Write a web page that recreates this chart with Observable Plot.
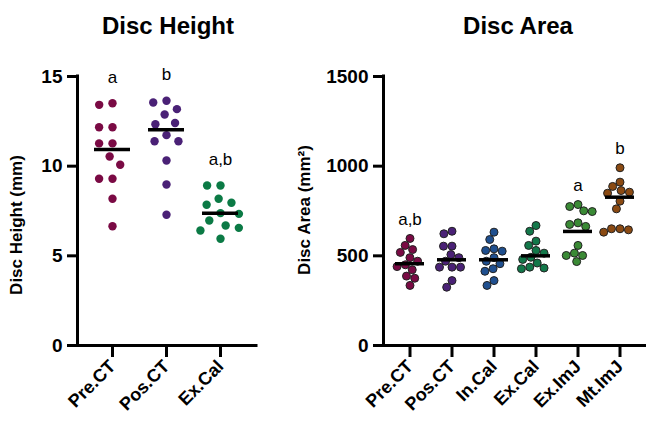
<!DOCTYPE html>
<html>
<head>
<meta charset="utf-8">
<script src="https://cdn.jsdelivr.net/npm/d3@7"></script>
<script src="https://cdn.jsdelivr.net/npm/@observablehq/plot@0.6"></script>
<style>
  html, body { margin: 0; padding: 0; background: #fff; }
  #wrap { position: relative; width: 646px; height: 426px; overflow: hidden; font-family: "Liberation Sans", Arial, sans-serif; }
  #wrap svg { position: absolute; top: 0; background: transparent; }
  .title { position: absolute; top: 12px; font-size: 24px; font-weight: bold; transform: translateX(-50%); white-space: nowrap; color: #000; }
  .ytitle { position: absolute; font-size: 17px; font-weight: bold; white-space: nowrap; transform: translate(-50%, -50%) rotate(-90deg); color: #000; }
</style>
</head>
<body>
<div id="wrap"></div>
<script>
// ---------- Disc Height ----------
const heightCategories = ["Pre.CT", "Pos.CT", "Ex.Cal"];
const heightPreCT = [13.51, 13.42, 12.17, 12.17, 11.27, 11.27, 10.54, 10.08, 9.30, 9.30, 8.18, 6.65];
const heightPosCT = [13.65, 13.55, 13.18, 12.88, 12.41, 12.34, 11.73, 11.39, 11.39, 10.32, 8.98, 7.29];
const heightExCal = [8.92, 8.92, 8.18, 7.96, 7.85, 7.38, 7.34, 6.97, 6.69, 6.56, 6.41, 5.95];
const heightCenter = [10.93, 12.03, 7.38];
const heightLetters = ["a", "b", "a,b"];
const heightTicks = [0, 5, 10, 15];

// ---------- Disc Area ----------
const areaCategories = ["Pre.CT", "Pos.CT", "In.Cal", "Ex.Cal", "Ex.ImJ", "Mt.ImJ"];
const areaPreCT = [597, 558, 535, 519, 490, 470, 450, 440, 422, 387, 375, 335];
const areaPosCT = [637, 623, 554, 554, 507, 490, 470, 437, 437, 437, 362, 325];
const areaInCal = [632, 591, 539, 530, 526, 490, 470, 456, 428, 414, 362, 335];
const areaExCal = [669, 637, 582, 558, 530, 515, 492, 480, 460, 437, 432, 428];
const areaExImJ = [786, 775, 751, 747, 684, 675, 664, 558, 515, 502, 502, 468];
const areaMtImJ = [991, 911, 887, 864, 855, 849, 805, 762, 651, 651, 645, 632];
const areaCenter = [456, 478, 478, 500, 636, 827];
const areaLetters = ["a,b", "", "", "", "a", "b"];
const areaTicks = [0, 500, 1000, 1500];

// colours
const heightColors = ["#7a0a44", "#4a2176", "#0b7a45"];
const areaColors = ["#7a0a44", "#4a2176", "#1f4f8f", "#13784a", "#3a8a35", "#8b4a12"];

const FONT = "Liberation Sans, Arial, sans-serif";

function rows(cats, groups) {
  return cats.flatMap((c, i) => groups[i].map(v => ({cat: c, v})));
}

function panel(opts) {
  const {cats, groups, centers, letters, ticks, yMax, colors, left, width, mL, mR, pIn, pOut, r, stroke, dodgePad, letterDy} = opts;
  const mT = 76, mB = 81, H = 426;
  const data = rows(cats, groups);
  const centerRows = cats.map((c, i) => ({cat: c, v: centers[i]}));
  const letterRows = cats.map((c, i) => ({cat: c, label: letters[i], top: d3.max(groups[i])})).filter(d => d.label);

  // axes frame (not faceted)
  const axes = Plot.plot({
    width, height: H, marginLeft: mL, marginRight: mR, marginTop: mT, marginBottom: mB,
    style: {fontFamily: FONT, background: "transparent", color: "#000"},
    x: {domain: [0, 1], axis: null},
    y: {domain: [0, yMax]},
    marks: [
      Plot.axisY({ticks, tickSize: 10, tickPadding: 5, strokeWidth: 3, fontSize: 19, fontWeight: "bold", label: null, tickFormat: d => String(d)}),
      Plot.ruleX([0], {strokeWidth: 3, strokeLinecap: "square"}),
      Plot.ruleY([0], {strokeWidth: 3, strokeLinecap: "square"})
    ]
  });
  axes.style.left = left + "px";

  const main = Plot.plot({
    width, height: H, marginLeft: mL, marginRight: mR, marginTop: mT, marginBottom: mB,
    style: {fontFamily: FONT, background: "transparent", color: "#000"},
    fx: {domain: cats, paddingInner: pIn, paddingOuter: pOut, label: null},
    y: {domain: [0, yMax], axis: null},
    color: {domain: cats, range: colors},
    marks: [
      Plot.axisFx({anchor: "bottom", tickSize: 12, tickPadding: 6, tickRotate: -45, strokeWidth: 3, fontSize: 18, fontWeight: "bold", label: null}),
      Plot.dot(data, Plot.dodgeX({anchor: "middle", padding: dodgePad}, {fx: "cat", y: "v", r, fill: "cat", stroke, strokeWidth: 1})),
      Plot.tickY(centerRows, {fx: "cat", y: "v", strokeWidth: 3.5, stroke: "#000"}),
      Plot.text(letterRows, {fx: "cat", y: "top", text: "label", dy: letterDy, fontSize: 17, fill: "#000"})
    ]
  });
  main.style.left = left + "px";
  return [axes, main];
}

const wrap = document.getElementById("wrap");

panel({
  cats: heightCategories, groups: [heightPreCT, heightPosCT, heightExCal], centers: heightCenter,
  letters: heightLetters, ticks: heightTicks, yMax: 15, colors: heightColors,
  left: 0, width: 300, mL: 77, mR: 44, pIn: 0.33, pOut: 0.32, r: 4.2, stroke: "none", dodgePad: 5, letterDy: -26
}).forEach(s => wrap.appendChild(s));

panel({
  cats: areaCategories, groups: [areaPreCT, areaPosCT, areaInCal, areaExCal, areaExImJ, areaMtImJ], centers: areaCenter,
  letters: areaLetters, ticks: areaTicks, yMax: 1500, colors: areaColors,
  left: 300, width: 346, mL: 83, mR: 1, pIn: 0.31, pOut: 0.245, r: 4, stroke: "#222", dodgePad: 0.5, letterDy: -19
}).forEach(s => wrap.appendChild(s));

function addText(cls, text, x, y) {
  const d = document.createElement("div");
  d.className = cls;
  d.textContent = text;
  d.style.left = x + "px";
  if (y != null) d.style.top = y + "px";
  wrap.appendChild(d);
}
addText("title", "Disc Height", 168);
addText("title", "Disc Area", 518);
addText("ytitle", "Disc Height (mm)", 17, 225);
addText("ytitle", "Disc Area (mm²)", 305, 210);
</script>
</body>
</html>
